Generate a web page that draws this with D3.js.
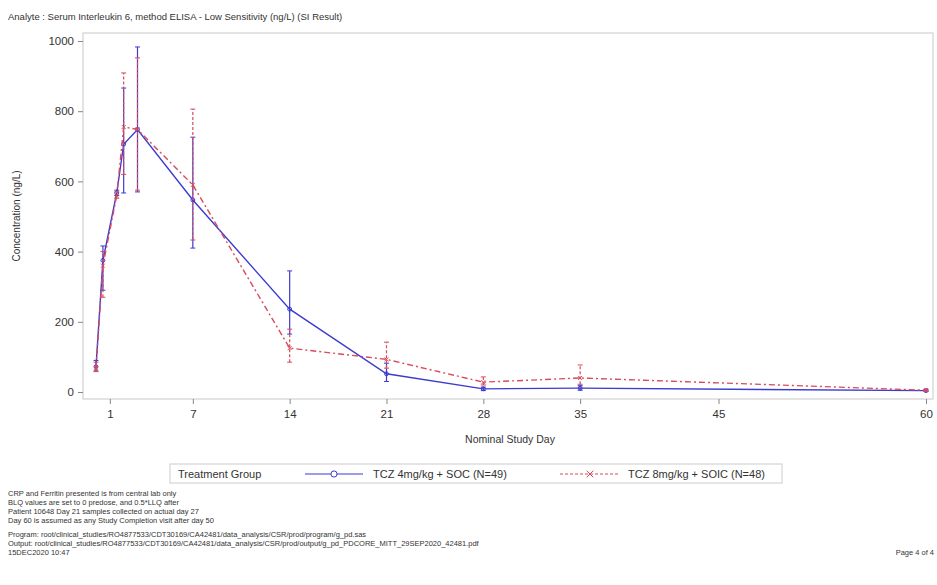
<!DOCTYPE html>
<html>
<head>
<meta charset="utf-8">
<script src="https://cdn.jsdelivr.net/npm/d3@7"></script>
<style>
    body { margin: 0; background: #fff; }
    svg { display: block; font-family: "Liberation Sans", Arial, sans-serif; }
</style>
</head>
<body>
<div class="paint"></div>
<script>
// nominal study days and summary values (ng/L)
let days = [0, 0.5, 1.5, 2, 3, 7, 14, 21, 28, 35, 60];
let blueMean = [72, 375, 567, 706, 748, 547, 236, 52, 9, 11, 4];
let blueLow = [60, 290, 560, 567, 570, 410, 165, 30, 4, 5, 2];
let blueHigh = [90, 416, 575, 866, 983, 726, 345, 82, 14, 18, 6];
let redMean = [68, 360, 560, 755, 748, 590, 125, 93, 28, 40, 5];
let redLow = [58, 270, 552, 620, 575, 433, 85, 68, 20, 22, 2];
let redHigh = [85, 400, 570, 909, 952, 806, 179, 142, 43, 77, 8];
let xTicks = [1, 7, 14, 21, 28, 35, 45, 60];
let yTicks = [0, 200, 400, 600, 800, 1000];
let groupNames = ["TCZ 4mg/kg + SOC (N=49)", "TCZ 8mg/kg + SOIC (N=48)"];
let footNotes = [
    "CRP and Ferritin presented is from central lab only",
    "BLQ values are set to 0 predose, and 0.5*LLQ after",
    "Patient 10648 Day 21 samples collected on actual day 27",
    "Day 60 is assumed as any Study Completion visit after day 50"
];
let programLines = [
    "Program: root/clinical_studies/RO4877533/CDT30169/CA42481/data_analysis/CSR/prod/program/g_pd.sas",
    "Output: root/clinical_studies/RO4877533/CDT30169/CA42481/data_analysis/CSR/prod/output/g_pd_PDCORE_MITT_29SEP2020_42481.pdf",
    "15DEC2020 10:47"
];

var chart;
(function (chart) {
    function ini() {
        let svg = d3.select(".paint").append("svg")
            .attr("width", 937).attr("height", 585);

        let x = d3.scaleLinear().domain([0, 60]).range([96, 926]);
        let y = d3.scaleLinear().domain([0, 1000]).range([392, 41]);

        svg.append("text").attr("x", 8).attr("y", 20)
            .attr("font-size", 9.5).attr("fill", "#333")
            .text("Analyte : Serum Interleukin 6, method ELISA - Low Sensitivity (ng/L) (SI Result)");

        // plot frame
        svg.append("rect").attr("x", 83).attr("y", 33).attr("width", 850).attr("height", 366)
            .attr("fill", "none").attr("stroke", "#c8c8c8");

        let gx = svg.append("g").attr("transform", "translate(0,399)")
            .call(d3.axisBottom(x).tickValues(xTicks).tickSize(5).tickPadding(6));
        let gy = svg.append("g").attr("transform", "translate(83,0)")
            .call(d3.axisLeft(y).tickValues(yTicks).tickFormat(d3.format("d")).tickSize(5).tickPadding(4));
        [gx, gy].forEach((g) => {
            g.select(".domain").remove();
            g.selectAll("line").attr("stroke", "#888");
            g.selectAll("text").attr("font-size", 11.5).attr("fill", "#333")
                .attr("font-family", "Liberation Sans, Arial, sans-serif");
        });

        svg.append("text").attr("x", 510).attr("y", 443).attr("text-anchor", "middle")
            .attr("font-size", 10.5).attr("fill", "#333").text("Nominal Study Day");
        svg.append("text").attr("transform", "translate(20,216) rotate(-90)")
            .attr("text-anchor", "middle").attr("font-size", 10).attr("fill", "#333")
            .text("Concentration (ng/L)");

        let groups = [
            { name: groupNames[0], mean: blueMean, low: blueLow, high: blueHigh, color: "#3b3bd0", dash: null, mark: "circle" },
            { name: groupNames[1], mean: redMean, low: redLow, high: redHigh, color: "#d94a5a", dash: "6,3,2,3", mark: "cross" }
        ];

        let line = d3.line().x((d) => x(d.day)).y((d) => y(d.v));

        groups.forEach((g) => {
            let pts = days.map((dd, i) => ({ day: dd, v: g.mean[i], lo: g.low[i], hi: g.high[i] }));
            let gg = svg.append("g");
            // error bars
            let bars = gg.selectAll(".bar").data(pts).enter().append("g").classed("bar", true);
            bars.append("line")
                .attr("x1", (d) => x(d.day)).attr("x2", (d) => x(d.day))
                .attr("y1", (d) => y(d.lo)).attr("y2", (d) => y(d.hi))
                .attr("stroke", g.color).attr("stroke-width", 1.2)
                .attr("stroke-dasharray", g.dash ? "3,2" : null);
            ["lo", "hi"].forEach((k) => {
                bars.append("line")
                    .attr("x1", (d) => x(d.day) - 2.5).attr("x2", (d) => x(d.day) + 2.5)
                    .attr("y1", (d) => y(d[k])).attr("y2", (d) => y(d[k]))
                    .attr("stroke", g.color).attr("stroke-width", 1);
            });
            gg.append("path").datum(pts).attr("d", line)
                .attr("fill", "none").attr("stroke", g.color).attr("stroke-width", 1.4)
                .attr("stroke-dasharray", g.dash);
            let marks = gg.selectAll(".mark").data(pts).enter().append("path").classed("mark", true)
                .attr("transform", (d) => "translate(" + x(d.day) + "," + y(d.v) + ")")
                .attr("fill", "none").attr("stroke", g.color).attr("stroke-width", 1);
            if (g.mark === "circle") {
                marks.attr("d", d3.symbol(d3.symbolCircle, 12)());
            } else {
                marks.attr("d", d3.symbol(d3.symbolTimes, 12)());
            }
        });

        // legend
        let lg = svg.append("g");
        lg.append("rect").attr("x", 170).attr("y", 464).attr("width", 612).attr("height", 19)
            .attr("fill", "none").attr("stroke", "#ccc");
        lg.append("text").attr("x", 178).attr("y", 478).attr("font-size", 11).attr("fill", "#333")
            .text("Treatment Group");
        let lgPos = [{ x1: 305, x2: 363, tx: 373 }, { x1: 560, x2: 620, tx: 628 }];
        groups.forEach((g, i) => {
            let p = lgPos[i];
            lg.append("line").attr("x1", p.x1).attr("x2", p.x2).attr("y1", 474).attr("y2", 474)
                .attr("stroke", g.color).attr("stroke-width", 1.2)
                .attr("stroke-dasharray", g.dash ? "3,2" : null);
            lg.append("path").attr("transform", "translate(" + ((p.x1 + p.x2) / 2) + ",474)")
                .attr("d", d3.symbol(g.mark === "circle" ? d3.symbolCircle : d3.symbolTimes, 30)())
                .attr("fill", "#fff").attr("stroke", g.color);
            lg.append("text").attr("x", p.tx).attr("y", 478).attr("font-size", 11).attr("fill", "#333")
                .text(g.name);
        });

        svg.selectAll(".foot").data(footNotes).enter().append("text").classed("foot", true)
            .attr("x", 8).attr("y", (d, i) => 496 + i * 9)
            .attr("font-size", 7.5).attr("fill", "#333").text((d) => d);
        svg.selectAll(".prog").data(programLines).enter().append("text").classed("prog", true)
            .attr("x", 8).attr("y", (d, i) => 537 + i * 9)
            .attr("font-size", 7.5).attr("fill", "#333").text((d) => d);
        svg.append("text").attr("x", 934).attr("y", 555).attr("text-anchor", "end")
            .attr("font-size", 7.5).attr("fill", "#333").text("Page 4 of 4");
    }
    chart.ini = ini;
})(chart || (chart = {}));
chart.ini();
</script>
</body>
</html>
